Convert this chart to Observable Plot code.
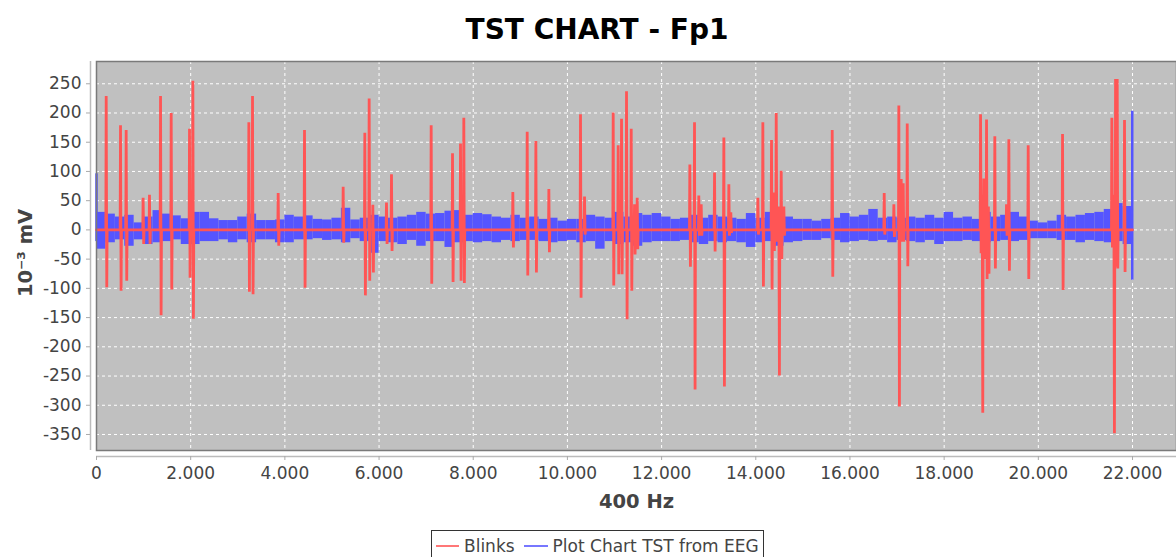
<!DOCTYPE html>
<html>
<head>
<meta charset="utf-8">
<script src="https://cdn.jsdelivr.net/npm/d3@7"></script>
<script src="https://cdn.jsdelivr.net/npm/@observablehq/plot@0.6"></script>
<style>
  html, body { margin: 0; padding: 0; background: #fff; overflow: hidden; }
  #title { width: 1158px; padding-left: 18px; height: 56px; text-align: center;
           font: bold 28px "DejaVu Sans"; line-height: 60px; color: #000; }
  #legend { margin-left: 431px; margin-top: 10px; display: inline-flex; align-items: center;
            border: 1px solid #333; padding: 4px 4px; font: 17px "DejaVu Sans"; line-height: 22px; color: #444; white-space: nowrap; }
  .sw { display: inline-block; width: 23px; height: 2px; margin-right: 5px; }
</style>
</head>
<body>
<div id="title">TST CHART - Fp1</div>
<div id="chart"></div>
<div id="legend"><span class="sw" style="background:#ff7777"></span>Blinks<span class="sw" style="background:#7777ff;margin-left:9px;width:24px"></span>Plot Chart TST from EEG</div>
<script>
// ---- data ----
const seriesNames = ["Blinks", "Plot Chart TST from EEG"];
const xTicks = [0, 2000, 4000, 6000, 8000, 10000, 12000, 14000, 16000, 18000, 20000, 22000];
const yTicks = [-350, -300, -250, -200, -150, -100, -50, 0, 50, 100, 150, 200, 250];
const xDomain = [0, 22934];
const yDomain = [-377.4, 288.1];
const sampleEnd = 22000;

// Blinks: [sample, positive peak, negative peak]
const blinkX = [206, 510, 630, 990, 1125, 1360, 1586, 1975, 2046, 3235, 3313, 3858, 4417, 5238, 5698, 5790, 5868, 6158, 6264, 7107, 7560, 7730, 7800, 8841, 9146, 9330, 9606, 10278, 10363, 10972, 11078, 11149, 11255, 11355, 11425, 11482, 12600, 12699, 12790, 12841, 13124, 13322, 13428, 13470, 14044, 14150, 14334, 14383, 14434, 14490, 14540, 14596, 15623, 16727, 16932, 17038, 17088, 17131, 17216, 18773, 18808, 18843, 18900, 18940, 19076, 19324, 19374, 19785, 20514, 21561, 21604, 21640, 21675, 21830];
const blinkUp = [229, 179, 171, 55, 60, 229, 200, 173, 255, 184, 229, 63, 171, 74, 166, 225, 43, 47, 95, 179, 131, 148, 192, 65, 168, 152, 70, 198, 57, 201, 145, 190, 237, 173, 44, 55, 112, 184, 59, 44, 98, 158, 78, 30, 55, 184, 154, 64, 200, 40, 101, 40, 171, 63, 44, 213, 87, 80, 182, 198, 60, 88, 189, 40, 160, 44, 155, 145, 164, 192, 60, 258, 258, 188];
const blinkDown = [-98, -104, -87, -24, -24, -146, -102, -82, -152, -106, -110, -27, -99, -22, -112, -87, -73, -24, -36, -92, -89, -87, -91, -30, -78, -73, -38, -116, -8, -95, -76, -76, -153, -104, -42, -33, -63, -273, -10, -10, -37, -268, -10, -5, -8, -97, -102, -36, -20, -249, -50, -10, -80, -8, -12, -302, -20, -20, -62, -40, -313, -50, -84, -75, -66, -10, -70, -84, -103, -30, -348, -63, -66, -72];

// EEG band: upper / lower envelope per 200-sample bin
const eegStep = 200;
const eegHi = [30, 27, 22, 25, 12, 22, 33, 27, 24, 19, 30, 30, 19, 16, 16, 22, 27, 16, 16, 17, 25, 22, 24, 18, 17, 20, 37, 17, 20, 25, 22, 20, 22, 25, 30, 27, 28, 32, 33, 25, 28, 26, 22, 20, 25, 20, 22, 18, 20, 15, 18, 18, 25, 22, 20, 30, 22, 28, 25, 28, 22, 18, 20, 25, 20, 25, 22, 20, 18, 28, 20, 30, 25, 22, 18, 18, 15, 18, 20, 28, 22, 25, 35, 20, 22, 20, 22, 20, 25, 20, 30, 20, 22, 18, 30, 22, 25, 30, 22, 15, 12, 15, 25, 22, 25, 28, 30, 35, 45, 40];
const eegLo = [-33, -22, -17, -28, -17, -25, -22, -20, -17, -25, -25, -20, -20, -17, -22, -17, -22, -17, -17, -22, -22, -17, -17, -15, -18, -17, -22, -15, -20, -40, -20, -22, -25, -18, -28, -20, -20, -30, -22, -20, -22, -20, -22, -18, -20, -18, -18, -20, -22, -20, -18, -22, -20, -33, -20, -25, -22, -28, -22, -20, -20, -20, -18, -22, -25, -20, -22, -20, -22, -30, -22, -20, -28, -22, -20, -18, -18, -15, -18, -22, -20, -18, -20, -18, -22, -18, -20, -22, -18, -25, -20, -20, -18, -20, -22, -20, -18, -20, -18, -15, -15, -15, -18, -18, -22, -18, -20, -22, -20, -25];
// isolated EEG spikes: [sample, hi, lo]
const eegSpikeX = [0, 21994];
const eegSpikeHi = [96, 203];
const eegSpikeLo = [-20, -86];

// ---- derived tables ----
const red = "#FF5555", blue = "#5555FF";
const redPts = [{x: 0, y: 0}];
blinkX.forEach((x, i) => {
  redPts.push({x: x - 8, y: 0}, {x, y: blinkUp[i]}, {x: x + 12, y: blinkDown[i]}, {x: x + 20, y: 0});
});
redPts.push({x: sampleEnd, y: 0});
const band = eegHi.map((h, i) => ({x1: i * eegStep, x2: (i + 1) * eegStep, hi: h, lo: eegLo[i]}));
const spikes = eegSpikeX.map((x, i) => ({x, hi: eegSpikeHi[i], lo: eegSpikeLo[i]}));
const fmtX = d => d3.format(",")(d).replace(/,/g, ".");

const chart = Plot.plot({
  width: 1176,
  height: 464,
  marginTop: 5,
  marginBottom: 70,
  marginLeft: 96,
  marginRight: 0,
  style: {fontFamily: "DejaVu Sans", fontSize: "17px", background: "white", overflow: "visible"},
  x: {domain: xDomain},
  y: {domain: yDomain},
  marks: [
    Plot.frame({fill: "#C0C0C0"}),
    Plot.gridX(xTicks, {stroke: "white", strokeOpacity: 1, strokeDasharray: "3,3"}),
    Plot.gridY(yTicks, {stroke: "white", strokeOpacity: 1, strokeDasharray: "3,3"}),
    Plot.rect(band, {x1: "x1", x2: "x2", y1: "lo", y2: "hi", fill: blue}),
    Plot.ruleX(spikes, {x: "x", y1: "lo", y2: "hi", stroke: blue, strokeWidth: 2.5}),
    Plot.line(redPts, {x: "x", y: "y", stroke: red, strokeWidth: 2.8, strokeLinejoin: "miter"}),
    Plot.frame({stroke: "#7a7a7a", strokeWidth: 1.5}),
    Plot.ruleY([yDomain[0]], {dy: 6, stroke: "#bbb", strokeWidth: 1.5}),
    Plot.ruleX([xDomain[0]], {dx: -6, stroke: "#bbb", strokeWidth: 1.5}),
    Plot.axisX(xTicks, {anchor: "bottom", dy: 6, tickSize: 4, tickPadding: 6, tickFormat: fmtX, label: null, stroke: "#aaa", fill: "#444"}),
    Plot.axisY(yTicks, {anchor: "left", dx: -6, tickSize: 4, tickPadding: 5, tickFormat: d => String(d), label: null, stroke: "#aaa", fill: "#444"}),
    Plot.text(["400 Hz"], {frameAnchor: "bottom", dy: 51, lineAnchor: "middle", textAnchor: "middle", fontWeight: "bold", fontSize: 19.5, fill: "#444"}),
    Plot.text(["10⁻³ mV"], {frameAnchor: "left", dx: -71, dy: -3, rotate: -90, lineAnchor: "middle", textAnchor: "middle", fontWeight: "bold", fontSize: 19.5, fill: "#444"})
  ]
});
document.getElementById("chart").appendChild(chart);
</script>
</body>
</html>
